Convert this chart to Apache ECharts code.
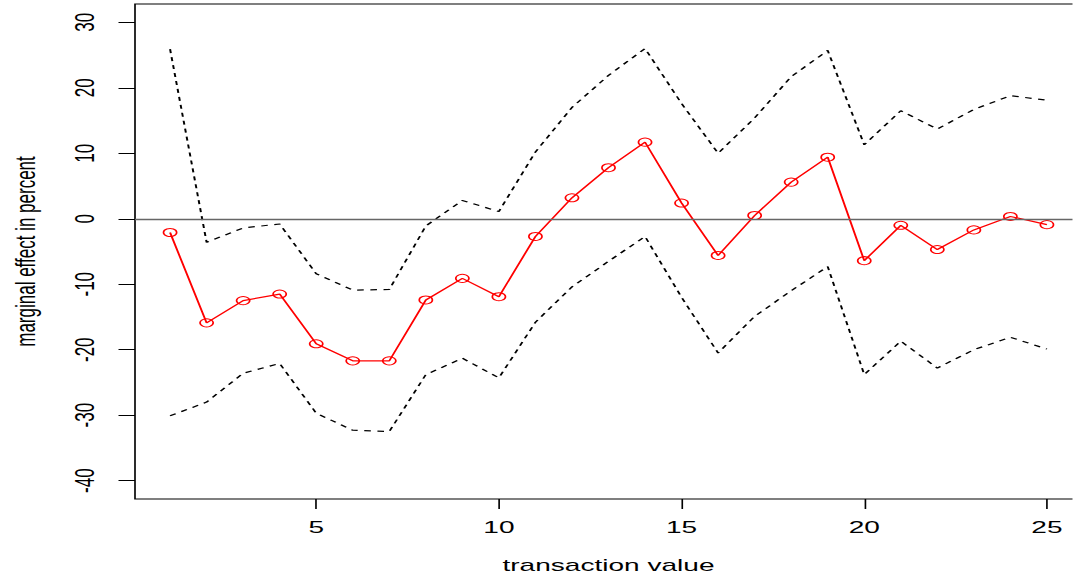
<!DOCTYPE html>
<html>
<head>
<meta charset="utf-8">
<script src="https://cdn.jsdelivr.net/npm/echarts@6/dist/echarts.min.js"></script>
<style>
html, body { margin: 0; padding: 0; background: #fff; overflow: hidden; }
#chart { height: 580px; transform-origin: 0 0; }
</style>
</head>
<body>
<div id="chart"></div>
<script>
// ---- data ----
const xValues = [1,2,3,4,5,6,7,8,9,10,11,12,13,14,15,16,17,18,19,20,21,22,23,24,25];
const estimate = [-2.1,-15.9,-12.5,-11.5,-19.1,-21.7,-21.7,-12.4,-9.1,-11.9,-2.7,3.2,7.8,11.7,2.4,-5.6,0.5,5.6,9.4,-6.4,-1.0,-4.7,-1.7,0.35,-0.9];
const upperBand = [25.9,-3.6,-1.4,-0.8,-8.4,-10.9,-10.8,-1.1,2.8,1.1,10.2,17.0,21.9,26.0,17.6,10.0,15.4,21.7,25.7,11.3,16.5,13.7,16.7,18.8,18.1];
const lowerBand = [-30.1,-28.0,-23.6,-22.1,-29.7,-32.3,-32.5,-23.8,-21.3,-24.3,-15.8,-10.4,-6.5,-2.7,-12.0,-20.5,-14.9,-11.0,-7.3,-23.8,-18.7,-22.8,-20.0,-18.1,-19.9];
const xTicks = [5,10,15,20,25];
const yTicks = [-40,-30,-20,-10,0,10,20,30];
const xTitle = 'transaction value';
const yTitle = 'marginal effect in percent';

// ---- layout (reference image is horizontally stretched) ----
const S = 1.65;
const W = 1073 / S;
const dom = document.getElementById('chart');
dom.style.width = W + 'px';
dom.style.transform = 'scaleX(' + S + ')';

const font = 'Liberation Sans, Arial, Helvetica, sans-serif';
const pair = arr => xValues.map((x, i) => [x, arr[i]]);

const chart = echarts.init(dom, null, { renderer: 'svg', width: W, height: 580 });
chart.setOption({
  animation: false,
  backgroundColor: '#fff',
  grid: {
    show: true, left: 135 / S, top: 4, width: 947 / S, height: 495,
    outerBoundsMode: 'none', containLabel: false,
    borderColor: '#000', borderWidth: 1, backgroundColor: 'transparent'
  },
  xAxis: {
    type: 'value', min: 0.04, max: 25.96,
    splitLine: { show: false },
    axisLine: { show: false, onZero: false },
    axisTick: { show: true, customValues: xTicks, length: 10, lineStyle: { color: '#000', width: 1 } },
    axisLabel: { customValues: xTicks, margin: 20, fontSize: 17, color: '#000', fontFamily: font },
    name: xTitle, nameLocation: 'middle', nameGap: 58,
    nameTextStyle: { fontSize: 17, color: '#000', fontFamily: font }
  },
  yAxis: {
    type: 'value', min: -42.8, max: 32.8,
    splitLine: { show: false },
    axisLine: { show: false, onZero: false },
    axisTick: { show: true, customValues: yTicks, length: 10, lineStyle: { color: '#000', width: 1 } },
    axisLabel: { customValues: yTicks, rotate: 90, margin: 22, fontSize: 17, color: '#000', fontFamily: font },
    name: yTitle, nameLocation: 'middle', nameGap: 58,
    nameTextStyle: { fontSize: 17, color: '#000', fontFamily: font }
  },
  series: [
    {
      type: 'line', data: pair(upperBand), symbol: 'none', silent: true,
      lineStyle: { color: '#000', width: 1.2, type: [4, 4] },
      markLine: {
        silent: true, symbol: ['none', 'none'], label: { show: false },
        lineStyle: { color: '#666', type: 'solid', width: 1.3 },
        data: [{ yAxis: 0 }]
      }
    },
    {
      type: 'line', data: pair(lowerBand), symbol: 'none', silent: true,
      lineStyle: { color: '#000', width: 1.2, type: [4, 4] }
    },
    {
      type: 'line', data: pair(estimate), symbol: 'circle', symbolSize: 8, silent: true,
      lineStyle: { color: '#ff0000', width: 1.2 },
      itemStyle: { color: 'rgba(0,0,0,0)', borderColor: '#ff0000', borderWidth: 1 }
    }
  ]
});
</script>
</body>
</html>
